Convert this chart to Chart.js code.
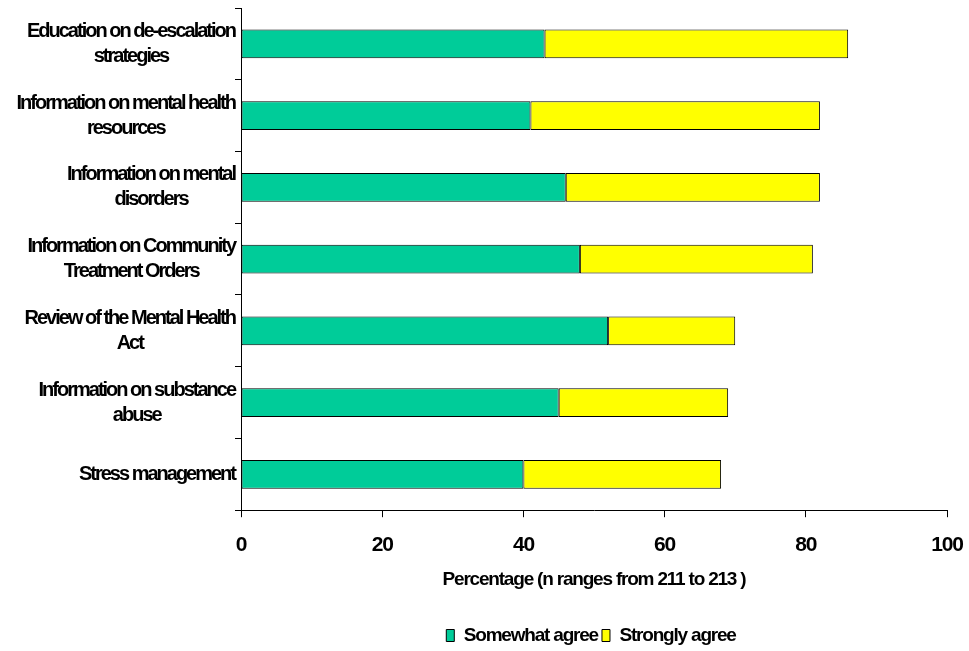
<!DOCTYPE html>
<html>
<head>
<meta charset="utf-8">
<title>Training topics – level of agreement</title>
<script src="https://cdn.jsdelivr.net/npm/chart.js@4.4.1/dist/chart.umd.min.js"></script>
<style>
  html, body { margin: 0; padding: 0; background: #ffffff; }
  canvas { display: block; }
</style>
</head>
<body>
<canvas id="chart" width="969" height="651"></canvas>
<script>
// Topics, top to bottom (each entry is the wrapped label lines)
const categories = [
  ["Education on de-escalation", "strategies"],
  ["Information on mental health", "resources"],
  ["Information on mental", "disorders"],
  ["Information on Community", "Treatment Orders"],
  ["Review of the Mental Health", "Act"],
  ["Information on substance", "abuse"],
  ["Stress management"]
];

// Percentages per topic
const somewhatAgree = [43, 41, 46, 48, 52, 45, 40];
const stronglyAgree = [43, 41, 36, 33, 18, 24, 28];

// Value axis tick labels
const xTickValues = [0, 20, 40, 60, 80, 100];

const seriesNames = ["Somewhat agree", "Strongly agree"];
const xAxisTitle = "Percentage (n ranges from 211 to 213 )";

const FONT = '"Liberation Sans", Arial, Helvetica, sans-serif';

// Slightly condensed text spacing for all chart text
const tightText = {
  id: 'tightText',
  beforeUpdate(chart) { chart.ctx.letterSpacing = '-1.2px'; },
  beforeDraw(chart) { chart.ctx.letterSpacing = '-1.2px'; }
};

// Category labels: block right-aligned against the axis, lines centred within the block
const blockLabels = {
  id: 'blockLabels',
  afterDraw(chart) {
    const scale = chart.scales.y;
    const ctx = chart.ctx;
    const labels = chart.data.labels;
    const lineHeight = 25;
    ctx.save();
    ctx.font = 'bold 20px ' + FONT;
    ctx.letterSpacing = '-2px';
    ctx.fillStyle = '#000000';
    ctx.textAlign = 'center';
    ctx.textBaseline = 'middle';
    const right = chart.chartArea.left - 6;
    labels.forEach((lines, i) => {
      const arr = Array.isArray(lines) ? lines : [lines];
      const blockWidth = Math.max(...arr.map(t => ctx.measureText(t).width));
      const cx = right - blockWidth / 2;
      const cy = scale.getPixelForTick(i);
      const y0 = cy - (arr.length - 1) * lineHeight / 2;
      arr.forEach((t, k) => ctx.fillText(t, cx, y0 + k * lineHeight));
    });
    ctx.restore();
  }
};

new Chart(document.getElementById('chart'), {
  type: 'bar',
  data: {
    labels: categories,
    datasets: [
      {
        label: seriesNames[0],
        data: somewhatAgree,
        backgroundColor: '#00CC99',
        borderColor: '#000000',
        borderWidth: 1,
        borderSkipped: false
      },
      {
        label: seriesNames[1],
        data: stronglyAgree,
        backgroundColor: '#FFFF00',
        borderColor: '#000000',
        borderWidth: 1,
        borderSkipped: false
      }
    ]
  },
  options: {
    indexAxis: 'y',
    responsive: false,
    devicePixelRatio: 1,
    animation: false,
    events: [],
    barPercentage: 0.4,
    categoryPercentage: 1.0,
    layout: { padding: { left: 235, right: 22, top: 8, bottom: -4 } },
    scales: {
      x: {
        stacked: true,
        min: 0,
        max: 100,
        afterBuildTicks(scale) { scale.ticks = xTickValues.map(v => ({ value: v })); },
        grid: {
          display: true,
          drawOnChartArea: false,
          drawTicks: true,
          tickLength: 7,
          color: '#000000',
          lineWidth: 1
        },
        border: { display: true, color: '#000000', width: 1 },
        ticks: {
          color: '#000000',
          padding: 4,
          maxRotation: 0,
          font: { family: FONT, size: 21, weight: 'bold', lineHeight: '48px' }
        },
        title: {
          display: true,
          text: xAxisTitle,
          color: '#000000',
          font: { family: FONT, size: 19, weight: 'bold' },
          padding: { top: -5, bottom: 31 }
        }
      },
      y: {
        stacked: true,
        grid: {
          display: true,
          offset: true,
          drawOnChartArea: false,
          drawTicks: true,
          tickLength: 6,
          color: '#000000',
          lineWidth: 1
        },
        border: { display: true, color: '#000000', width: 1 },
        ticks: { display: false }
      }
    },
    plugins: {
      legend: {
        display: true,
        position: 'bottom',
        labels: {
          color: '#000000',
          boxWidth: 8,
          boxHeight: 12,
          padding: 4,
          font: { family: FONT, size: 19, weight: 'bold' }
        }
      },
      tooltip: { enabled: false },
      title: { display: false }
    }
  },
  plugins: [tightText, blockLabels]
});
</script>
</body>
</html>
